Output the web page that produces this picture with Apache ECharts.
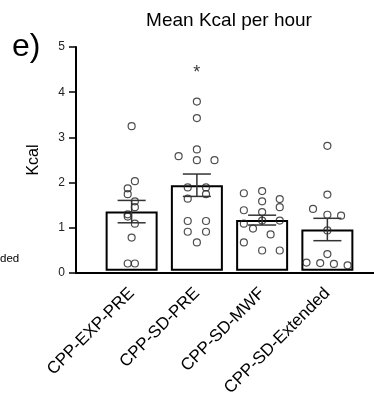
<!DOCTYPE html>
<html>
<head>
<meta charset="utf-8">
<script src="https://cdn.jsdelivr.net/npm/echarts@6/dist/echarts.min.js"></script>
<style>
  html, body { margin: 0; padding: 0; background: #fff; }
  #chart { width: 374px; height: 399px; }
</style>
</head>
<body>
<div id="chart"></div>
<script>
// groups on the x axis
const categories = ["CPP-EXP-PRE", "CPP-SD-PRE", "CPP-SD-MWF", "CPP-SD-Extended"];
// bar heights (mean) and error (SEM)
const means = [1.32, 1.91, 1.13, 0.92];
const sems = [0.25, 0.25, 0.11, 0.25];
const yTicks = [0, 1, 2, 3, 4, 5];

// individual animals (Kcal) and their horizontal jitter within the group
const kcalExpPre = [3.23, 2.0, 1.84, 1.71, 1.55, 1.42, 1.26, 1.21, 1.05, 0.74, 0.16, 0.16];
const jitExpPre = [0, 0.05, -0.06, -0.06, 0.05, 0.05, -0.06, -0.06, 0.05, 0, -0.06, 0.05];
const kcalSdPre = [3.78, 3.41, 2.71, 2.56, 2.47, 2.47, 1.86, 1.86, 1.61, 1.71, 1.11, 1.11, 0.87, 0.87, 0.63];
const jitSdPre = [0, 0, 0, -0.28, 0, 0.27, -0.14, 0.14, -0.14, 0.14, -0.14, 0.14, -0.14, 0.14, 0];
const kcalSdMwf = [1.78, 1.73, 1.55, 1.6, 1.42, 1.35, 1.31, 1.12, 1.05, 1.12, 0.94, 0.81, 0.63, 0.45, 0.45];
const jitSdMwf = [0, -0.28, 0, 0.27, 0.27, -0.28, 0, 0, -0.28, 0.27, -0.14, 0.13, -0.28, 0, 0.27];
const kcalSdExt = [2.79, 1.7, 1.38, 1.25, 1.23, 0.9, 0.37, 0.18, 0.17, 0.15, 0.12];
const jitSdExt = [0, 0, -0.22, 0, 0.21, 0, 0, -0.32, -0.11, 0.1, 0.31];

// significance marker
const sigMarks = ["", "*", "", ""];
const sigLevel = 4.42;

const FONT = "Liberation Sans, Arial, Helvetica, sans-serif";

const groups = [
  [kcalExpPre, jitExpPre],
  [kcalSdPre, jitSdPre],
  [kcalSdMwf, jitSdMwf],
  [kcalSdExt, jitSdExt],
];
const points = [];
groups.forEach(([vals, jit], i) => {
  vals.forEach((v, k) => points.push([i + jit[k], v]));
});

const myChart = echarts.init(document.getElementById("chart"));
myChart.setOption({
  animation: false,
  title: {
    text: "Mean Kcal per hour",
    left: 224,
    top: 6,
    textAlign: "center",
    textStyle: { fontFamily: FONT, fontSize: 19, fontWeight: "normal", color: "#000" },
  },
  graphic: [
    {
      type: "text",
      left: 12,
      top: 31,
      style: { text: "e)", font: "32px " + FONT, fill: "#000" },
    },
    {
      type: "text",
      left: 0,
      top: 253,
      style: { text: "ded", font: "11.5px " + FONT, fill: "#000" },
    },
  ],
  grid: [
    { left: 76, right: 0, top: 47, bottom: 126 },
    { left: 99, width: 261, top: 47, bottom: 126 },
  ],
  xAxis: [
    {
      gridIndex: 0,
      type: "value",
      min: 0,
      max: 1,
      axisLine: { show: true, lineStyle: { color: "#000", width: 2 } },
      axisTick: { show: false },
      axisLabel: { show: false },
      splitLine: { show: false },
    },
    {
      gridIndex: 1,
      type: "category",
      data: categories,
      axisLine: { show: false },
      axisTick: { show: false },
      axisLabel: {
        rotate: 45,
        margin: 20,
        fontFamily: FONT,
        fontSize: 17,
        color: "#000",
      },
    },
    {
      gridIndex: 1,
      type: "value",
      min: -0.5,
      max: 3.5,
      show: false,
    },
  ],
  yAxis: [
    {
      gridIndex: 0,
      type: "value",
      min: yTicks[0],
      max: yTicks[yTicks.length - 1],
      interval: 1,
      name: "Kcal",
      nameLocation: "middle",
      nameGap: 34,
      nameTextStyle: { fontFamily: FONT, fontSize: 16, color: "#000" },
      axisLine: { show: true, lineStyle: { color: "#000", width: 2 } },
      axisTick: { show: true, length: 7, lineStyle: { color: "#000", width: 1.5 } },
      axisLabel: { margin: 11, fontFamily: FONT, fontSize: 12, color: "#222" },
      splitLine: { show: false },
    },
    {
      gridIndex: 1,
      type: "value",
      min: yTicks[0],
      max: yTicks[yTicks.length - 1],
      show: false,
    },
  ],
  series: [
    {
      type: "bar",
      xAxisIndex: 1,
      yAxisIndex: 1,
      data: means,
      barWidth: 52,
      itemStyle: { color: "#fff", borderColor: "#000", borderWidth: 2 },
      z: 1,
    },
    {
      type: "scatter",
      xAxisIndex: 2,
      yAxisIndex: 1,
      data: points,
      symbol: "circle",
      symbolSize: 7,
      itemStyle: { color: "rgba(255,255,255,0)", borderColor: "#222", borderWidth: 1.2 },
      z: 3,
    },
    {
      type: "custom",
      xAxisIndex: 1,
      yAxisIndex: 1,
      data: means.map((m, i) => [i, m, sems[i]]),
      renderItem: (params, api) => {
        const i = api.value(0);
        const m = api.value(1);
        const s = api.value(2);
        const hi = api.coord([i, m + s]);
        const lo = api.coord([i, m - s]);
        const half = api.size([1, 0])[0] * 0.215;
        const style = { stroke: "#333", lineWidth: 1.5 };
        return {
          type: "group",
          children: [
            { type: "line", shape: { x1: hi[0], y1: hi[1], x2: lo[0], y2: lo[1] }, style },
            { type: "line", shape: { x1: hi[0] - half, y1: hi[1], x2: hi[0] + half, y2: hi[1] }, style },
            { type: "line", shape: { x1: lo[0] - half, y1: lo[1], x2: lo[0] + half, y2: lo[1] }, style },
          ],
        };
      },
      z: 4,
    },
    {
      type: "scatter",
      xAxisIndex: 1,
      yAxisIndex: 1,
      data: sigMarks.map((t, i) => (t ? [i, sigLevel] : null)).filter(Boolean),
      symbolSize: 0,
      label: {
        show: true,
        position: "inside",
        formatter: (p) => sigMarks[p.value[0]],
        fontFamily: FONT,
        fontSize: 18,
        color: "#000",
      },
      z: 5,
    },
  ],
});
</script>
</body>
</html>
